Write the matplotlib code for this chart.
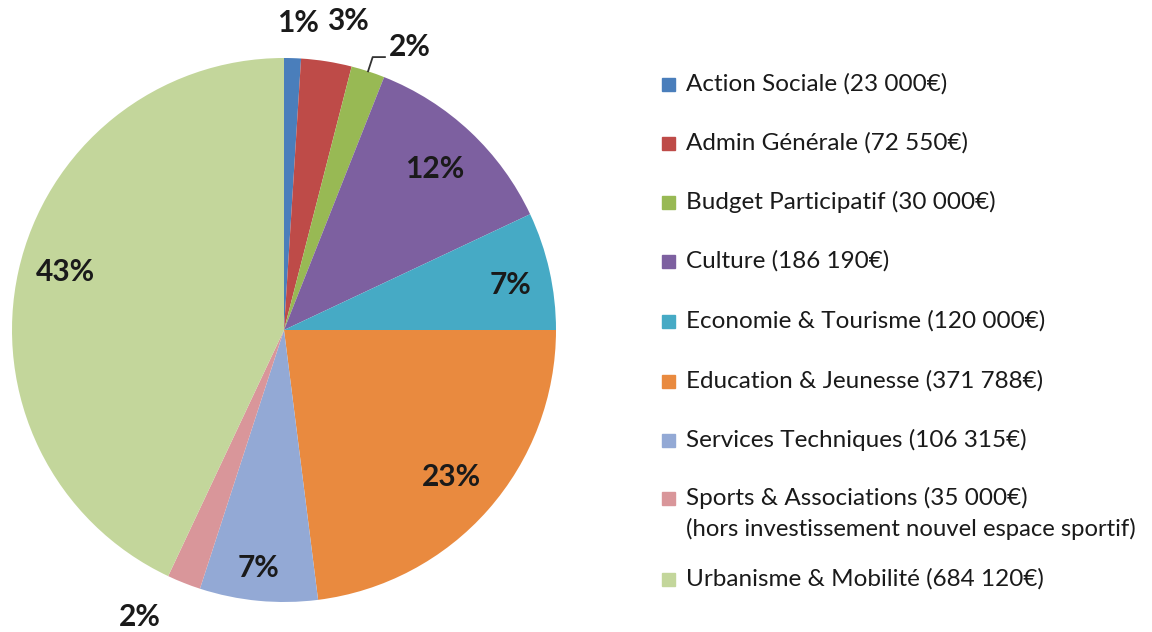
import numpy as np
import matplotlib.pyplot as plt
from matplotlib.patches import Rectangle

plt.rcParams["font.family"] = ["Lato", "DejaVu Sans"]

categories = [
    "Action Sociale (23 000€)",
    "Admin Générale (72 550€)",
    "Budget Participatif (30 000€)",
    "Culture (186 190€)",
    "Economie & Tourisme (120 000€)",
    "Education & Jeunesse (371 788€)",
    "Services Techniques (106 315€)",
    "Sports & Associations (35 000€)",
    "Urbanisme & Mobilité (684 120€)",
]
shares = [1, 3, 2, 12, 7, 23, 7, 2, 43]
colors = ["#4A7EBB", "#BE4B48", "#98B954", "#7D60A0", "#46AAC5",
          "#E98A3F", "#93A9D5", "#D9969A", "#C3D69B"]
note = "(hors investissement nouvel espace sportif)"

# label placement: radius factor and angle offset (deg) for each slice
label_r = [1.13, 1.16, 1.14, 0.81, 0.85, 0.82, 0.88, 1.18, 0.83]
label_dang = [0.8, 2.7, 6.0, 0, 1.3, 0, 0.6, 5.0, 2.2]

W, H = 1152, 632
fig = plt.figure(figsize=(W / 100, H / 100), dpi=100)
cx, cy, rad = 284, 330, 272
ax = fig.add_axes([(cx - rad) / W, (H - cy - rad) / H, 2 * rad / W, 2 * rad / H])

wedges, _ = ax.pie(shares, colors=colors, startangle=90, counterclock=False,
                   radius=1, wedgeprops=dict(linewidth=0))
for w in wedges:
    w.set_clip_on(False)
ax.set_xlim(-1, 1)
ax.set_ylim(-1, 1)
ax.set_aspect("equal")
ax.axis("off")

cum = np.cumsum([0] + shares)
for i, s in enumerate(shares):
    mid = (cum[i] + s / 2) / 100 * 360
    ang = np.deg2rad(mid + label_dang[i])
    x = label_r[i] * np.sin(ang)
    y = label_r[i] * np.cos(ang)
    ax.text(x, y, f"{s}%", ha="center", va="center", fontsize=21.5,
            fontweight="bold", color="#1a1a1a", clip_on=False)
    if i == 2:
        m = np.deg2rad(mid)
        p0 = (np.sin(m), np.cos(m))
        p1 = (1.055 * np.sin(m), 1.055 * np.cos(m))
        ax.plot([p0[0], p1[0], p1[0] + 0.045], [p0[1], p1[1], p1[1]],
                color="#333333", lw=1.3, clip_on=False)

# legend
rows_y = [84, 143, 202, 261, 321, 381, 440, 498, 579]
for lab, col, py in zip(categories, colors, rows_y):
    fig.patches.append(Rectangle((662 / W, (H - py - 6.5) / H), 13 / W, 13 / H,
                                 transform=fig.transFigure, color=col))
    fig.text(686 / W, (H - py) / H, lab, ha="left", va="center",
             fontsize=17.5, color="#1a1a1a")
fig.text(686 / W, (H - 529) / H, note, ha="left", va="center",
         fontsize=17.2, color="#1a1a1a")

fig.savefig("out.png", dpi=100, facecolor="white")
